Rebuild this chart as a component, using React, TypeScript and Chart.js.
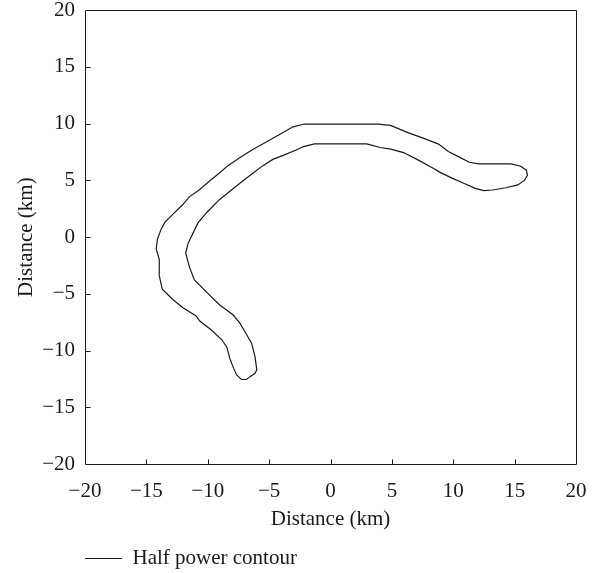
import React, { useEffect, useRef } from "react";
import { Chart, registerables } from "chart.js";

Chart.register(...registerables);

// Closed half-power contour (km), traced along the outer edge then back along the inner edge
const contourX = [
  -2.2, -1, 0, 1, 2, 3, 3.9, 4.9, 6.2, 7.6, 8.8, 9.6, 10.5, 11.3, 12.1, 13.5, 14.7, 15.5, 15.95,
  16.05, 15.8, 15.25, 14.3, 13.2, 12.5, 11.8, 10.85, 9.9, 8.85, 8.4, 7.05, 5.95, 4.9, 4.05, 2.95,
  2.4, 1, -1.3, -2.2, -2.8, -3.85, -4.7, -5.5, -6.3, -7.15, -8.2, -9.05, -10.1, -10.8, -11.2, -11.6,
  -11.8, -11.5, -11.1, -10.1, -9.0, -7.92, -7.37, -6.97, -6.42, -6.15, -6.0, -6.15, -6.55, -6.85,
  -7.25, -7.65, -7.9, -8.2, -8.45, -8.85, -9.75, -10.65, -10.95, -12.05, -12.85, -13.7, -13.95,
  -13.95, -14.2, -14.1, -13.8, -13.5, -12.85, -12.05, -11.5, -10.65, -9.85, -9.05, -8.35, -7.4,
  -6.3, -5.2, -4.15, -3.05, -2.2,
];
const contourY = [
  9.95, 9.95, 9.95, 9.95, 9.95, 9.95, 9.95, 9.85, 9.25, 8.7, 8.2, 7.55, 7.05, 6.6, 6.45, 6.45, 6.45,
  6.25, 5.9, 5.45, 5.0, 4.6, 4.35, 4.15, 4.1, 4.3, 4.75, 5.2, 5.75, 6.05, 6.85, 7.45, 7.75, 7.9, 8.22,
  8.22, 8.22, 8.22, 7.98, 7.68, 7.2, 6.85, 6.3, 5.65, 4.95, 4.05, 3.3, 2.15, 1.25, 0.35, -0.55,
  -1.4, -2.6, -3.75, -4.85, -6.0, -6.87, -7.6, -8.34, -9.37, -10.55, -11.7, -12.0, -12.3, -12.55,
  -12.55, -12.15, -11.55, -10.7, -9.7, -9.05, -8.15, -7.4, -6.95, -6.2, -5.5, -4.6, -3.4, -1.95,
  -1.05, -0.2, 0.7, 1.3, 2.0, 2.85, 3.55, 4.2, 4.95, 5.65, 6.3, 7.0, 7.75, 8.4, 9.05, 9.72, 9.95,
];

const xTickValues = [-20, -15, -10, -5, 0, 5, 10, 15, 20];
const yTickValues = [-20, -15, -10, -5, 0, 5, 10, 15, 20];
const seriesLabel = "Half power contour";
const xTitle = "Distance (km)";
const yTitle = "Distance (km)";

const FONT = "'Liberation Serif', 'DejaVu Serif', serif";
const INK = "#1a1a1a";

const fmt = (v: number | string) => String(v).replace("-", "\u2212");

const frameAndTicks = {
  id: "frameAndTicks",
  afterDraw(chart: any) {
    const { ctx, chartArea, scales } = chart;
    const { left, right, top, bottom } = chartArea;
    const xs = scales.x;
    const ys = scales.y;
    ctx.save();
    ctx.strokeStyle = INK;
    ctx.lineWidth = 1;
    const L = Math.round(left) + 0.5;
    const R = Math.round(right) + 0.5;
    const T = Math.round(top) + 0.5;
    const B = Math.round(bottom) + 0.5;
    ctx.beginPath();
    ctx.rect(L, T, R - L, B - T);
    ctx.stroke();
    const len = 5;
    ctx.beginPath();
    xTickValues.forEach((v) => {
      if (v === xTickValues[0] || v === xTickValues[xTickValues.length - 1]) return;
      const px = Math.round(xs.getPixelForValue(v)) + 0.5;
      ctx.moveTo(px, B);
      ctx.lineTo(px, B - len);
    });
    yTickValues.forEach((v) => {
      if (v === yTickValues[0] || v === yTickValues[yTickValues.length - 1]) return;
      const py = Math.round(ys.getPixelForValue(v)) + 0.5;
      ctx.moveTo(L, py);
      ctx.lineTo(L + len, py);
    });
    ctx.stroke();
    ctx.restore();
  },
};

export default function App() {
  const canvasRef = useRef<HTMLCanvasElement | null>(null);

  useEffect(() => {
    document.body.style.margin = "0";
    const canvas = canvasRef.current;
    if (!canvas) return;
    const points = contourX.map((x, i) => ({ x, y: contourY[i] }));
    const chart = new Chart(canvas, {
      type: "scatter",
      data: {
        datasets: [
          {
            label: seriesLabel,
            data: points,
            showLine: true,
            borderColor: INK,
            backgroundColor: INK,
            borderWidth: 1.2,
            pointRadius: 0,
            tension: 0,
            fill: false,
          },
        ],
      },
      options: {
        responsive: false,
        animation: false,
        devicePixelRatio: 1,
        layout: { padding: { left: 0, right: 28, top: 0, bottom: 0 } },
        scales: {
          x: {
            type: "linear",
            min: -20,
            max: 20,
            grid: { display: false, drawTicks: false },
            border: { display: false },
            afterFit: (scale: any) => {
              scale.height = 84;
            },
            afterBuildTicks: (scale: any) => {
              scale.ticks = xTickValues.map((v) => ({ value: v }));
            },
            ticks: {
              padding: 17,
              color: INK,
              font: { family: FONT, size: 21, lineHeight: 1 },
              maxRotation: 0,
              callback: (v: any) => fmt(v),
            },
            title: {
              display: true,
              text: xTitle,
              color: INK,
              font: { family: FONT, size: 21, lineHeight: 1.2 },
              padding: { top: 0, bottom: 16 },
            },
          },
          y: {
            type: "linear",
            min: -20,
            max: 20,
            grid: { display: false, drawTicks: false },
            border: { display: false },
            afterFit: (scale: any) => {
              scale.width = 85;
            },
            afterBuildTicks: (scale: any) => {
              scale.ticks = yTickValues.map((v) => ({ value: v }));
            },
            ticks: {
              padding: 10,
              color: INK,
              font: { family: FONT, size: 21, lineHeight: 0.02 },
              callback: (v: any) => fmt(v),
            },
            title: {
              display: true,
              text: yTitle,
              color: INK,
              font: { family: FONT, size: 21, lineHeight: 1.2 },
              padding: { top: 14, bottom: 0 },
            },
          },
        },
        plugins: {
          legend: {
            display: true,
            position: "bottom",
            align: "start",
            fullSize: false,
            maxHeight: 25,
            labels: {
              usePointStyle: true,
              pointStyle: "line",
              pointStyleWidth: 37,
              padding: 0,
              color: INK,
              font: { family: FONT, size: 21 },
            },
          },
          tooltip: { enabled: false },
        },
      },
      plugins: [frameAndTicks],
    } as any);
    return () => chart.destroy();
  }, []);

  return (
    <div style={{ width: 604, height: 573 }}>
      <canvas ref={canvasRef} width={604} height={573} style={{ display: "block" }} />
    </div>
  );
}
